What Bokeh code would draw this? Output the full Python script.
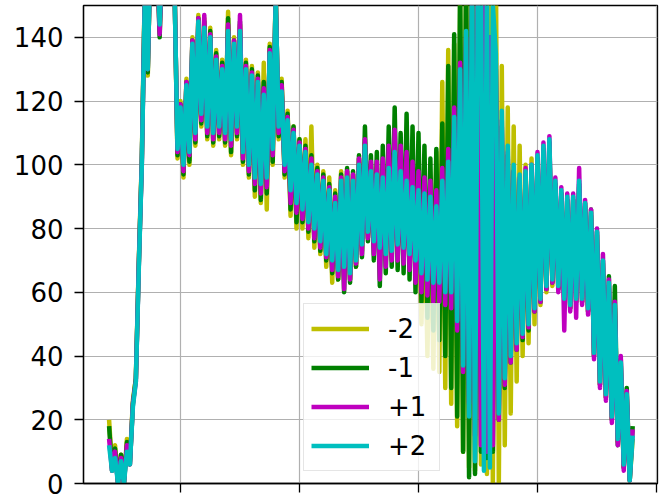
from bokeh.plotting import figure
from bokeh.models import Range1d, FixedTicker, Legend, LegendItem
from bokeh.embed import file_html
from bokeh.resources import INLINE

# sample index (x axis); values per offset series
samples = list(range(16, 193))
x_ticks = [40, 80, 120, 160, 200]
y_ticks = [0, 20, 40, 60, 80, 100, 120, 140]
labels = ["-2", "-1", "+1", "+2"]
colors = ["#bfbf00", "#008000", "#bf00bf", "#00bfbf"]

yellow = [
    20, 5, 12, 0, 9, 0, 14, 7, 26, 33,
    70, 102, 155, 128, 172, 160, 170, 142, 172, 162,
    174, 160, 157, 102, 120, 96, 127, 100, 140, 106,
    147, 112, 146, 108, 143, 106, 136, 108, 133, 106,
    148, 103, 140, 108, 144, 100, 133, 96, 131, 90,
    129, 88, 132, 86, 138, 100, 155, 108, 127, 96,
    117, 84, 112, 80, 108, 80, 108, 77, 112, 74,
    100, 72, 98, 68, 96, 63, 92, 64, 98, 64,
    98, 64, 97, 68, 102, 73, 107, 77, 100, 74,
    99, 72, 98, 70, 101, 71, 106, 73, 100, 72,
    98, 70, 96, 68, 95, 50, 94, 40, 93, 36,
    104, 35, 126, 30, 136, 25, 138, 18, 150, 10,
    160, 5, 165, 4, 160, 6, 165, 3, 170, 0,
    165, 0, 131, 12, 118, 22, 112, 32, 106, 40,
    100, 44, 102, 50, 101, 56, 104, 60, 105, 62,
    94, 61, 91, 57, 89, 55, 89, 57, 93, 57,
    87, 54, 84, 40, 78, 31, 69, 27, 62, 20,
    55, 13, 37, 5, 27, 1, 14]

green = [
    18, 4, 11, 0, 9, 0, 13, 6, 25, 33,
    69, 101, 154, 129, 171, 159, 169, 140, 171, 161,
    173, 159, 156, 103, 119, 97, 126, 101, 139, 107,
    146, 113, 145, 109, 142, 107, 135, 109, 132, 107,
    146, 104, 139, 109, 145, 101, 132, 97, 130, 92,
    128, 89, 126, 91, 137, 101, 154, 109, 126, 97,
    116, 86, 112, 82, 108, 82, 106, 79, 103, 76,
    99, 73, 97, 70, 94, 66, 91, 64, 97, 60,
    99, 63, 98, 68, 103, 71, 112, 76, 103, 70,
    104, 62, 106, 66, 112, 68, 118, 67, 110, 66,
    116, 64, 112, 60, 110, 57, 106, 52, 102, 48,
    105, 45, 113, 40, 131, 30, 141, 21, 160, 10,
    165, 2, 168, 3, 160, 10, 150, 8, 140, 10,
    130, 20, 112, 30, 103, 38, 98, 42, 95, 45,
    97, 48, 99, 54, 102, 57, 105, 61, 107, 63,
    94, 61, 91, 57, 89, 55, 89, 57, 94, 57,
    88, 54, 86, 40, 79, 31, 70, 27, 65, 20,
    62, 12, 39, 5, 30, 1, 18]

magenta = [
    14, 4, 10, 0, 8, 0, 12, 6, 25, 32,
    69, 100, 153, 130, 170, 158, 168, 141, 170, 160,
    172, 158, 156, 104, 119, 98, 126, 103, 139, 108,
    146, 114, 147, 110, 141, 108, 134, 110, 131, 108,
    144, 106, 139, 110, 147, 102, 131, 98, 129, 94,
    127, 91, 124, 93, 136, 103, 153, 110, 125, 98,
    115, 88, 111, 85, 107, 83, 105, 80, 102, 77,
    98, 74, 96, 71, 93, 67, 90, 65, 96, 61,
    98, 64, 97, 69, 102, 72, 108, 77, 101, 72,
    101, 64, 102, 68, 106, 70, 111, 70, 106, 69,
    104, 67, 101, 63, 98, 60, 96, 59, 95, 57,
    92, 57, 99, 56, 105, 55, 118, 48, 132, 35,
    140, 25, 150, 15, 168, 12, 150, 10, 140, 12,
    132, 20, 114, 31, 104, 38, 98, 42, 96, 46,
    99, 49, 100, 54, 104, 57, 107, 61, 109, 63,
    96, 60, 93, 48, 91, 54, 91, 52, 99, 56,
    89, 53, 86, 39, 80, 30, 72, 26, 64, 19,
    57, 12, 40, 4, 29, 1, 17]

cyan = [
    12, 4, 8, 0, 7, 0, 10, 6, 24, 32,
    68, 100, 152, 130, 170, 158, 168, 144, 170, 160,
    172, 158, 155, 105, 118, 100, 125, 104, 138, 110,
    145, 116, 143, 112, 140, 110, 133, 112, 130, 110,
    142, 108, 138, 112, 142, 104, 130, 100, 128, 96,
    126, 94, 122, 96, 135, 105, 152, 112, 123, 100,
    114, 92, 110, 88, 106, 86, 104, 82, 100, 80,
    97, 76, 95, 72, 92, 70, 88, 67, 95, 68,
    96, 66, 95, 70, 100, 75, 106, 79, 98, 76,
    97, 74, 96, 72, 99, 73, 104, 75, 98, 74,
    95, 72, 93, 70, 92, 66, 91, 64, 90, 63,
    87, 63, 95, 60, 101, 60, 115, 51, 130, 37,
    142, 21, 162, 7, 165, 160, 4, 160, 5, 150,
    135, 22, 117, 33, 106, 40, 100, 44, 97, 47,
    98, 50, 100, 55, 103, 58, 106, 62, 108, 64,
    95, 62, 92, 58, 90, 56, 90, 58, 95, 58,
    88, 55, 85, 41, 79, 32, 70, 28, 63, 21,
    56, 14, 38, 6, 28, 1, 15]

series = [yellow, green, magenta, cyan]

p = figure(frame_width=574, frame_height=478, output_backend="svg",
           toolbar_location=None,
           x_range=Range1d(7.4, 200.34), y_range=Range1d(0, 150),
           min_border_left=83, min_border_right=5, min_border_top=5,
           min_border_bottom=17)
p.background_fill_color = "white"
p.border_fill_color = "white"
p.outline_line_color = "black"
p.outline_line_width = 1.3

renderers = []
for vals, col in zip(series, colors):
    r = p.line(samples, vals, line_color=col, line_width=4.5, line_join="round")
    renderers.append(r)

p.xaxis.ticker = FixedTicker(ticks=x_ticks)
p.yaxis.ticker = FixedTicker(ticks=y_ticks)
for ax in (p.xaxis, p.yaxis):
    ax.axis_line_color = "black"
    ax.axis_line_width = 1.3
    ax.major_tick_line_color = "black"
    ax.major_tick_line_width = 1.3
    ax.major_tick_out = 9
    ax.major_tick_in = 0
    ax.minor_tick_line_color = None
    ax.major_label_text_font = "DejaVu Sans"
    ax.major_label_text_color = "black"
p.yaxis.major_label_text_font_size = "26px"
p.yaxis.major_label_standoff = 11
# the x tick labels fall below the visible area in the reference
p.xaxis.major_label_overrides = {t: "" for t in x_ticks}
p.xaxis.major_label_text_font_size = "2px"
p.xaxis.major_label_standoff = 0

p.grid.grid_line_color = "#b0b0b0"
p.grid.grid_line_width = 1.2

legend = Legend(items=[LegendItem(label=l, renderers=[r]) for l, r in zip(labels, renderers)],
                location=(220, 12), orientation="vertical",
                glyph_width=58, glyph_height=35, spacing=4, padding=7, margin=0,
                label_standoff=19, label_width=44, label_height=35,
                label_text_font="DejaVu Sans", label_text_font_size="26px",
                label_text_color="black",
                border_line_color="#cccccc", border_line_width=1.2,
                background_fill_color="white", background_fill_alpha=0.8)
p.add_layout(legend)

open("out.html", "w").write(file_html(p, INLINE))
